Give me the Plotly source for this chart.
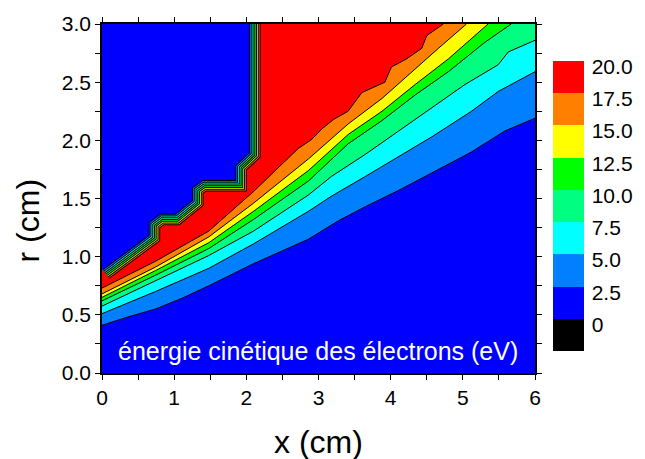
import plotly.graph_objects as go

# ---------------- data ----------------
X_RANGE = [0, 6]
R_RANGE = [0, 3]

LEVELS = [2.5, 5.0, 7.5, 10.0, 12.5, 15.0, 17.5]
COLORBAR_TICKS = [0, 2.5, 5.0, 7.5, 10.0, 12.5, 15.0, 17.5, 20.0]
COLORBAR_LABELS = ["0", "2.5", "5.0", "7.5", "10.0", "12.5", "15.0", "17.5", "20.0"]
BAND_COLORS = ["#000000", "#0000ff", "#0080ff", "#00ffff", "#00ff80",
               "#00ff00", "#ffff00", "#ff8000", "#ff0000"]

# contour line 2.5 eV
x_c25 = [0, 0.35, 0.74, 1.10, 1.48, 2.10, 2.86, 3.28, 3.65, 4.11, 4.57, 5.12, 5.58, 6.0]
r_c25 = [0.41, 0.48, 0.55, 0.64, 0.75, 0.94, 1.15, 1.31, 1.43, 1.57, 1.72, 1.90, 2.08, 2.19]
# contour line 5.0 eV
x_c50 = [0, 0.74, 1.48, 2.10, 2.86, 3.18, 3.65, 4.11, 4.57, 5.12, 5.49, 6.0]
r_c50 = [0.51, 0.70, 0.90, 1.11, 1.39, 1.52, 1.69, 1.86, 2.03, 2.25, 2.42, 2.59]
# contour line 7.5 eV
x_c75 = [0, 0.74, 1.48, 2.10, 2.86, 3.18, 3.65, 4.11, 4.57, 5.03, 5.49, 5.63, 6.0]
r_c75 = [0.575, 0.79, 1.01, 1.22, 1.53, 1.69, 1.88, 2.08, 2.28, 2.48, 2.65, 2.76, 2.86]
# contour line 10.0 eV
x_c100 = [0, 0.74, 1.48, 2.10, 2.86, 3.41, 3.88, 4.34, 4.80, 5.30, 5.67]
r_c100 = [0.62, 0.84, 1.07, 1.32, 1.65, 1.97, 2.17, 2.39, 2.59, 2.84, 3.0]
# contour line 12.5 eV
x_c125 = [0, 0.74, 1.48, 2.10, 2.86, 3.41, 3.88, 4.34, 4.80, 5.35]
r_c125 = [0.65, 0.88, 1.12, 1.39, 1.74, 2.05, 2.25, 2.48, 2.70, 3.0]
# contour line 15.0 eV
x_c150 = [0, 0.74, 1.48, 2.10, 2.86, 3.41, 3.88, 4.24, 4.66, 5.05]
r_c150 = [0.68, 0.91, 1.17, 1.46, 1.84, 2.14, 2.36, 2.56, 2.79, 3.0]
# contour line 17.5 eV
x_c175 = [0, 0.74, 1.48, 2.10, 2.72, 2.91, 3.05, 3.21, 3.41, 3.60, 3.92, 4.01, 4.22, 4.43, 4.50, 4.73]
r_c175 = [0.73, 0.96, 1.22, 1.56, 1.93, 2.01, 2.10, 2.18, 2.25, 2.41, 2.50, 2.63, 2.70, 2.79, 2.90, 3.0]

# staircase edge of the zero-energy region (upper left)
x_zero = [2.02, 2.02, 1.83, 1.83, 1.39, 1.23, 1.23, 1.01, 0.80, 0.63, 0.63, 0.0]
r_zero = [3.0, 1.90, 1.79, 1.67, 1.67, 1.60, 1.49, 1.38, 1.38, 1.30, 1.19, 0.90]

# ---------------- styling ----------------
FONT = "Liberation Sans, Arial, sans-serif"
STRIPE_PX = 1.75

lines = [(x_c25, r_c25), (x_c50, r_c50), (x_c75, r_c75), (x_c100, r_c100),
         (x_c125, r_c125), (x_c150, r_c150), (x_c175, r_c175)]

fig = go.Figure()

# filled regions above each contour level
for i, (xs, rs) in enumerate(lines):
    if rs[-1] >= R_RANGE[1]:
        px = list(xs) + [X_RANGE[0]]
        py = list(rs) + [R_RANGE[1]]
    else:
        px = list(xs) + [X_RANGE[1], X_RANGE[0]]
        py = list(rs) + [R_RANGE[1], R_RANGE[1]]
    fig.add_trace(go.Scatter(x=px, y=py, mode="lines", fill="toself",
                             fillcolor=BAND_COLORS[i + 2], line=dict(width=0),
                             hoverinfo="skip", showlegend=False))

# black contour lines
for xs, rs in lines:
    fig.add_trace(go.Scatter(x=xs, y=rs, mode="lines",
                             line=dict(color="black", width=1),
                             hoverinfo="skip", showlegend=False))

# crowded contour stripes along the staircase edge
for k in range(len(LEVELS), 0, -1):
    fig.add_trace(go.Scatter(x=x_zero, y=r_zero, mode="lines",
                             line=dict(color="black", width=2 * k * STRIPE_PX + 1),
                             hoverinfo="skip", showlegend=False))
    fig.add_trace(go.Scatter(x=x_zero, y=r_zero, mode="lines",
                             line=dict(color=BAND_COLORS[k], width=2 * k * STRIPE_PX - 1),
                             hoverinfo="skip", showlegend=False))

# zero-energy region
fig.add_trace(go.Scatter(x=x_zero + [X_RANGE[0]], y=r_zero + [R_RANGE[1]],
                         mode="lines", fill="toself", fillcolor=BAND_COLORS[1],
                         line=dict(width=0), hoverinfo="skip", showlegend=False))

# colour bar
n = len(BAND_COLORS)
cscale = []
for i, c in enumerate(BAND_COLORS):
    cscale.append([i / n, c])
    cscale.append([(i + 1) / n, c])
cmin = COLORBAR_TICKS[0] - 2.5
cmax = COLORBAR_TICKS[-1]
fig.add_trace(go.Scatter(
    x=[None], y=[None], mode="markers", hoverinfo="skip", showlegend=False,
    marker=dict(color=[0], colorscale=cscale, cmin=cmin, cmax=cmax, showscale=True,
                colorbar=dict(thickness=31, thicknessmode="pixels",
                              len=290, lenmode="pixels",
                              x=(555 - 102) / 435, xanchor="left",
                              y=(373 - 203) / 355, yanchor="middle",
                              xpad=0, ypad=0, outlinewidth=0,
                              tickvals=[v - 0.45 for v in COLORBAR_TICKS],
                              ticktext=COLORBAR_LABELS, ticks="outside",
                              ticklen=4, tickcolor="rgba(0,0,0,0)",
                              tickfont=dict(family=FONT, size=21, color="black")))))

axis_common = dict(showgrid=False, zeroline=False, showline=True, linecolor="black",
                   linewidth=1.5, mirror="ticks", ticks="outside", ticklen=5,
                   tickwidth=1.2, tickcolor="black",
                   tickfont=dict(family=FONT, size=21, color="black"))

fig.update_layout(
    width=645, height=459,
    margin=dict(l=102, r=108, t=18, b=86),
    paper_bgcolor="white", plot_bgcolor=BAND_COLORS[1],
    xaxis=dict(range=X_RANGE, dtick=1, tick0=0,
               minor=dict(dtick=0.5, ticks="outside", ticklen=5, tickcolor="black"),
               **axis_common),
    yaxis=dict(range=R_RANGE, dtick=0.5, tick0=0, tickformat=".1f",
               minor=dict(dtick=0.25, ticks="outside", ticklen=5, tickcolor="black"),
               **axis_common),
    annotations=[
        dict(text="x (cm)", xref="paper", yref="paper", x=(319.5 - 102) / 435,
             y=(373 - 443) / 355, xanchor="center", yanchor="middle", showarrow=False,
             font=dict(family=FONT, size=32, color="black")),
        dict(text="r (cm)", xref="paper", yref="paper", x=(27.5 - 102) / 435,
             y=(373 - 218) / 355, xanchor="center", yanchor="middle", showarrow=False,
             textangle=-90, font=dict(family=FONT, size=32, color="black")),
        dict(text="énergie cinétique des électrons (eV)", xref="paper", yref="paper",
             x=(318.5 - 102) / 435, y=(373 - 351) / 355, xanchor="center",
             yanchor="middle", showarrow=False,
             font=dict(family=FONT, size=25, color="white")),
    ],
)

fig.write_html("out.html", config={"displayModeBar": False},
               post_script="document.body.style.margin='0';document.body.style.overflow='hidden';")
